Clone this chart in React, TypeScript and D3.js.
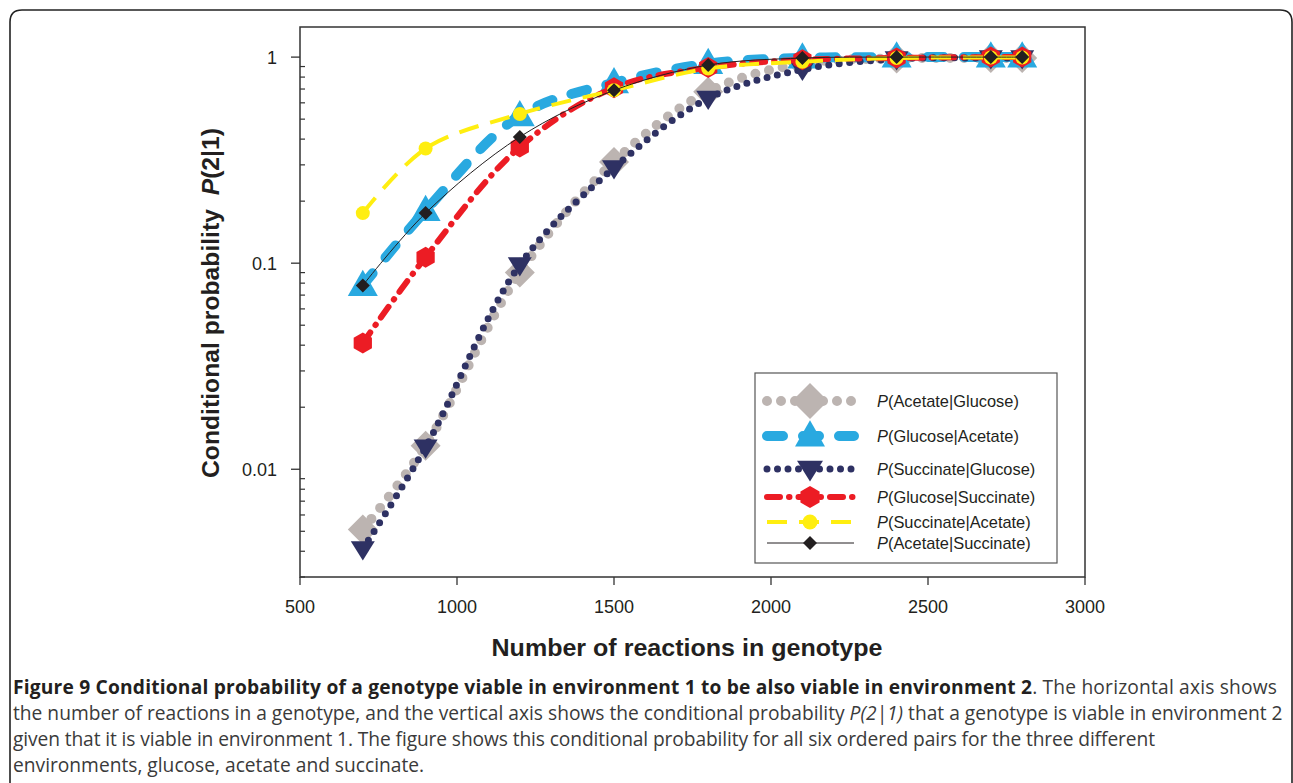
import React from "react";
import * as d3 from "d3";

const xValues = [700, 900, 1200, 1500, 1800, 2100, 2400, 2700, 2800];
const acetateGlucose = [0.0051, 0.013, 0.09, 0.31, 0.68, 0.93, 0.985, 0.99, 0.99];
const glucoseAcetate = [0.078, 0.18, 0.52, 0.75, 0.93, 0.99, 1.0, 1.0, 1.0];
const succinateGlucose = [0.0041, 0.0128, 0.098, 0.29, 0.63, 0.87, 0.98, 0.99, 0.99];
const glucoseSuccinate = [0.041, 0.107, 0.366, 0.71, 0.89, 0.97, 0.99, 1.0, 1.0];
const succinateAcetate = [0.175, 0.36, 0.53, 0.69, 0.88, 0.95, 0.99, 0.995, 0.995];
const acetateSuccinate = [0.078, 0.175, 0.41, 0.69, 0.915, 0.99, 1.0, 1.0, 1.0];

const seriesNames = [
  ["Acetate", "Glucose"],
  ["Glucose", "Acetate"],
  ["Succinate", "Glucose"],
  ["Glucose", "Succinate"],
  ["Succinate", "Acetate"],
  ["Acetate", "Succinate"],
];
const xTicks = [500, 1000, 1500, 2000, 2500, 3000];
const yMajorTicks = [0.01, 0.1, 1];
const yTickLabels = ["0.01", "0.1", "1"];
const xDomain = [500, 3000];
const yDomain = [0.003, 1.4];

const styles = [
  { color: "#BCB4B1", width: 10, dash: "0 14", cap: "round", marker: "diamond", size: 15, legendSize: 18 },
  { color: "#29A9E0", width: 10, dash: "16 20", cap: "round", marker: "triUp", size: 15, legendSize: 15 },
  { color: "#2E3163", width: 7, dash: "0 10.5", cap: "round", marker: "triDown", size: 12, legendSize: 13 },
  { color: "#EC1C24", width: 6, dash: "13 9 0.5 9", cap: "round", marker: "hex", size: 10.5, legendSize: 11 },
  { color: "#FFEE10", width: 4, dash: "20 12", cap: "butt", marker: "circle", size: 7, legendSize: 7.5 },
  { color: "#231F20", width: 1, dash: "", cap: "butt", marker: "diamond", size: 7, legendSize: 7 },
];

const allSeries = [acetateGlucose, glucoseAcetate, succinateGlucose, glucoseSuccinate, succinateAcetate, acetateSuccinate];

function markerPath(kind: string, cx: number, cy: number, s: number): string {
  if (kind === "diamond") {
    return `M${cx},${cy - s}L${cx + s},${cy}L${cx},${cy + s}L${cx - s},${cy}Z`;
  }
  if (kind === "triUp") {
    const h = s * 1.75;
    return `M${cx},${cy - h * 0.6}L${cx + s},${cy + h * 0.4}L${cx - s},${cy + h * 0.4}Z`;
  }
  if (kind === "triDown") {
    const h = s * 1.6;
    return `M${cx},${cy + h * 0.6}L${cx + s},${cy - h * 0.4}L${cx - s},${cy - h * 0.4}Z`;
  }
  if (kind === "hex") {
    const w = s * 0.87;
    return `M${cx},${cy - s}L${cx + w},${cy - s / 2}L${cx + w},${cy + s / 2}L${cx},${cy + s}L${cx - w},${cy + s / 2}L${cx - w},${cy - s / 2}Z`;
  }
  return "";
}

function Marker({ kind, cx, cy, s, color }: { kind: string; cx: number; cy: number; s: number; color: string }) {
  if (kind === "circle") return <circle cx={cx} cy={cy} r={s} fill={color} />;
  return <path d={markerPath(kind, cx, cy, s)} fill={color} />;
}

export default function App() {
  const W = 1293, H = 783;
  const left = 300, right = 1085, top = 27, bottom = 577;
  const x = d3.scaleLinear().domain(xDomain).range([left, right]);
  const y = d3.scaleLog().domain(yDomain).range([bottom, top]);
  const line = d3
    .line<[number, number]>()
    .x((d) => x(d[0]))
    .y((d) => y(d[1]))
    .curve(d3.curveCatmullRom.alpha(0.5));

  const minorTicks: number[] = [];
  for (const dec of [0.001, 0.01, 0.1]) {
    for (let k = 2; k <= 9; k++) {
      const v = dec * k;
      if (v >= yDomain[0] && v <= yDomain[1] && Math.abs(v - 0.01) > 1e-9 && Math.abs(v - 0.1) > 1e-9) minorTicks.push(v);
    }
  }

  const axisFont = "'Liberation Sans', Arial, sans-serif";
  const legendY = [401, 436, 469, 497, 522, 543];
  const capFont = "'Open Sans', sans-serif";
  const capColor = "#3a3a3a";

  return (
    <svg width={W} height={H} style={{ position: "absolute", left: 0, top: 0, background: "#fff" }}>
      <rect x={0} y={0} width={W} height={H} fill="#fff" />
      {/* outer rounded frame */}
      <path d={`M10,${H}L10,22Q10,10 22,10L1280,10Q1292,10 1292,22L1292,${H}`} fill="none" stroke="#222" strokeWidth={1.6} />

      {/* plot box */}
      <rect x={left} y={top} width={right - left} height={bottom - top} fill="none" stroke="#333" strokeWidth={1.5} />

      {/* x ticks */}
      {xTicks.map((t) => (
        <g key={"xt" + t}>
          <line x1={x(t)} x2={x(t)} y1={bottom} y2={bottom + 8} stroke="#333" strokeWidth={1.3} />
          <text x={x(t)} y={bottom + 36} textAnchor="middle" fontFamily={axisFont} fontSize={18} fill="#231F20">
            {t}
          </text>
        </g>
      ))}
      {/* y major ticks */}
      {yMajorTicks.map((t, i) => (
        <g key={"yt" + t}>
          <line x1={left - 9} x2={left} y1={y(t)} y2={y(t)} stroke="#333" strokeWidth={1.3} />
          <text x={left - 23} y={y(t) + 6.5} textAnchor="end" fontFamily={axisFont} fontSize={18} fill="#231F20">
            {yTickLabels[i]}
          </text>
        </g>
      ))}
      {minorTicks.map((t) => (
        <line key={"ym" + t} x1={left} x2={left + 5} y1={y(t)} y2={y(t)} stroke="#333" strokeWidth={1.2} />
      ))}

      {/* axis titles */}
      <text x={687} y={656} textAnchor="middle" fontFamily={axisFont} fontWeight="bold" fontSize={24} fill="#231F20" textLength={391} lengthAdjust="spacingAndGlyphs">
        Number of reactions in genotype
      </text>
      <text
        transform={`translate(219,303) rotate(-90)`}
        textAnchor="middle"
        fontFamily={axisFont}
        fontWeight="bold"
        fontSize={24}
        fill="#231F20"
        textLength={350}
        lengthAdjust="spacingAndGlyphs"
      >
        Conditional probability{"\u00a0\u00a0"}
        <tspan fontStyle="italic">P</tspan>(2|1)
      </text>

      {/* series */}
      {allSeries.map((vals, i) => {
        const st = styles[i];
        const pts = xValues.map((xv, j) => [xv, vals[j]] as [number, number]);
        return (
          <g key={"s" + i}>
            <path
              d={line(pts) || ""}
              fill="none"
              stroke={st.color}
              strokeWidth={st.width}
              strokeDasharray={st.dash || undefined}
              strokeLinecap={st.cap as any}
            />
            {pts.map((p, j) => (
              <Marker key={j} kind={st.marker} cx={x(p[0])} cy={y(p[1])} s={st.size} color={st.color} />
            ))}
          </g>
        );
      })}

      {/* legend */}
      <rect x={755} y={373} width={302} height={190} fill="#fff" stroke="#555" strokeWidth={1.2} />
      {seriesNames.map((nm, i) => {
        const st = styles[i];
        const ly = legendY[i];
        return (
          <g key={"lg" + i}>
            <line
              x1={767}
              x2={854}
              y1={ly}
              y2={ly}
              stroke={st.color}
              strokeWidth={st.width}
              strokeDasharray={st.dash || undefined}
              strokeLinecap={st.cap as any}
            />
            <Marker kind={st.marker} cx={810} cy={ly} s={st.legendSize} color={st.color} />
            <text x={877} y={ly + 6} fontFamily={axisFont} fontSize={16.4} fill="#231F20">
              <tspan fontStyle="italic">P</tspan>({nm[0]}|{nm[1]})
            </text>
          </g>
        );
      })}

      {/* caption */}
      <g fontFamily={capFont} fontSize={19.2} fill={capColor}>
        <text x={13} y={694} textLength={1264} lengthAdjust="spacing">
          <tspan fontWeight="bold" fill="#231F20">
            Figure 9 Conditional probability of a genotype viable in environment 1 to be also viable in environment 2
          </tspan>
          . The horizontal axis shows
        </text>
        <text x={13} y={720}>
          the number of reactions in a genotype, and the vertical axis shows the conditional probability{" "}
          <tspan fontStyle="italic">P(2|1)</tspan> that a genotype is viable in environment 2
        </text>
        <text x={13} y={746} textLength={1142} lengthAdjust="spacing">
          given that it is viable in environment 1. The figure shows this conditional probability for all six ordered pairs for the three different
        </text>
        <text x={13} y={772}>
          environments, glucose, acetate and succinate.
        </text>
      </g>
    </svg>
  );
}
